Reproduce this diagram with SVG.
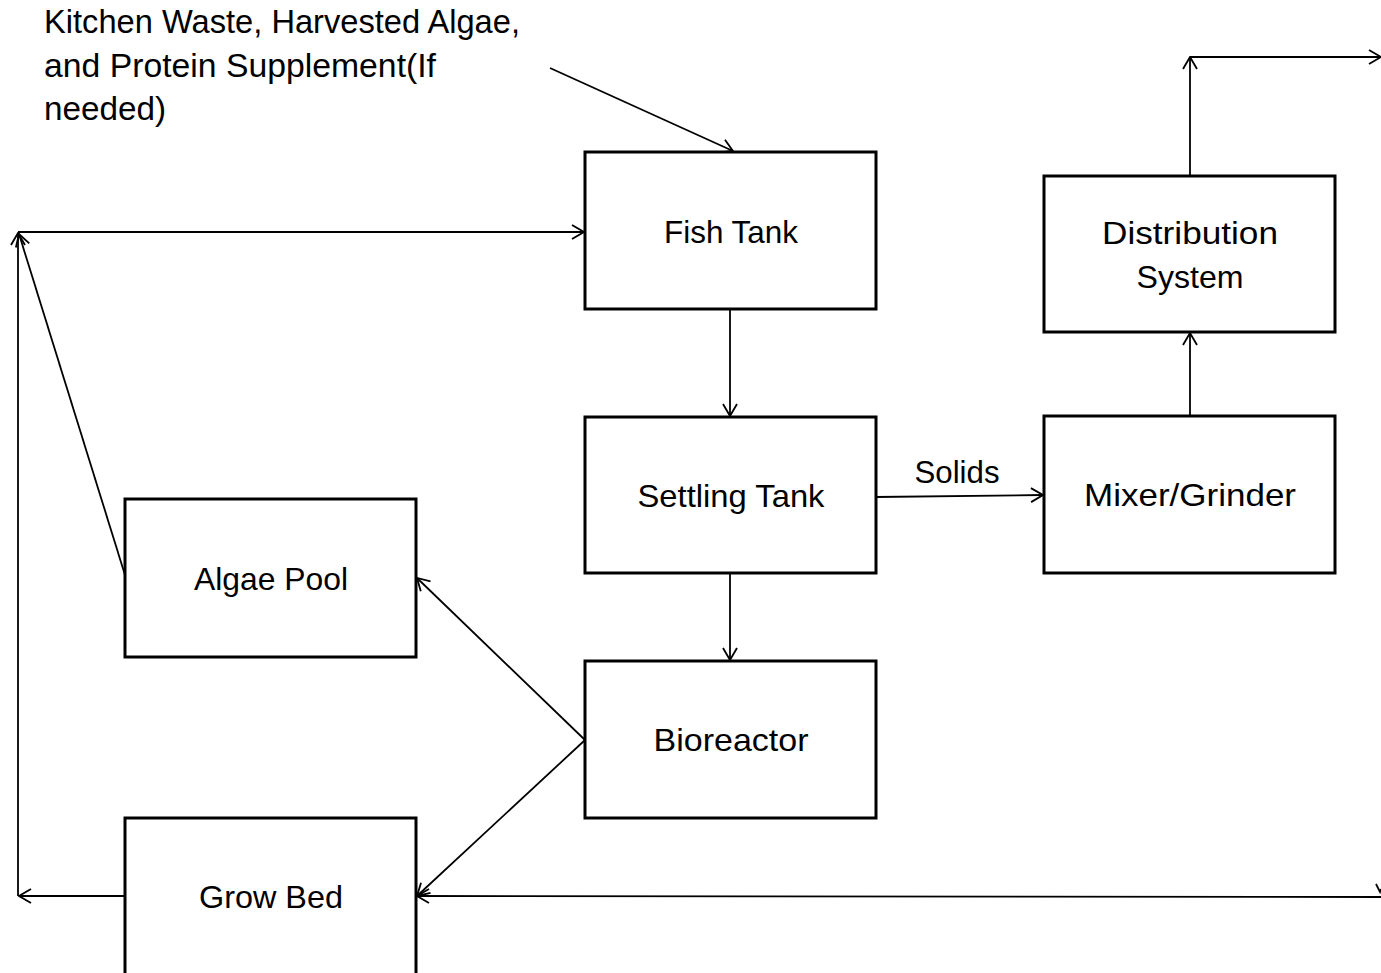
<svg xmlns="http://www.w3.org/2000/svg" width="1381" height="973" viewBox="0 0 1381 973">
<style>
.box{fill:#fff;stroke:#000;stroke-width:3}
.lbl{font-family:"Liberation Sans",Arial,sans-serif;font-size:32px;fill:#000;text-anchor:middle}
.top{font-family:"Liberation Sans",Arial,sans-serif;font-size:33px;fill:#000;text-anchor:start}
.con{fill:none;stroke:#000;stroke-width:1.8}
.head{fill:none;stroke:#000;stroke-width:1.8}
</style>
<defs>
<marker id="arr" viewBox="0 0 14 16" refX="13" refY="8" markerWidth="14" markerHeight="16" markerUnits="userSpaceOnUse" orient="auto">
<path d="M1,1 L13,8 L1,15" class="head"/>
</marker>
</defs>
<rect width="1381" height="973" fill="#fff"/>
<g id="connectors">
<line class="con" x1="550" y1="68" x2="733" y2="151" marker-end="url(#arr)"/>
<line class="con" x1="18" y1="232" x2="584" y2="232" marker-end="url(#arr)"/>
<line class="con" x1="18" y1="896" x2="18" y2="233" marker-end="url(#arr)"/>
<line class="con" x1="125" y1="575" x2="19" y2="234" marker-end="url(#arr)"/>
<line class="con" x1="125" y1="896" x2="19" y2="896" marker-end="url(#arr)"/>
<line class="con" x1="730" y1="309" x2="730" y2="416" marker-end="url(#arr)"/>
<line class="con" x1="730" y1="573" x2="730" y2="660" marker-end="url(#arr)"/>
<line class="con" x1="876" y1="497" x2="1043" y2="495" marker-end="url(#arr)"/>
<line class="con" x1="1190" y1="416" x2="1190" y2="333" marker-end="url(#arr)"/>
<line class="con" x1="1190" y1="176" x2="1190" y2="57" marker-end="url(#arr)"/>
<line class="con" x1="1190" y1="57" x2="1381" y2="57" marker-end="url(#arr)"/>
<line class="con" x1="585" y1="740" x2="417" y2="578" marker-end="url(#arr)"/>
<line class="con" x1="585" y1="740" x2="417" y2="896" marker-end="url(#arr)"/>
<line class="con" x1="1381" y1="897" x2="417" y2="896" marker-end="url(#arr)"/>
<polyline class="con" points="1376,884 1380,892 1381,889"/>
<text class="lbl" x="957" y="483" textLength="85" lengthAdjust="spacingAndGlyphs">Solids</text>
</g>
<g id="input-label">
<text class="top" x="44" y="33" textLength="476" lengthAdjust="spacingAndGlyphs">Kitchen Waste, Harvested Algae,</text>
<text class="top" x="44" y="77" textLength="392" lengthAdjust="spacingAndGlyphs">and Protein Supplement(If</text>
<text class="top" x="44" y="120" textLength="122" lengthAdjust="spacingAndGlyphs">needed)</text>
</g>
<g id="fish-tank">
<rect class="box" x="585" y="152" width="291" height="157"/>
<text class="lbl" x="731" y="243" textLength="134" lengthAdjust="spacingAndGlyphs">Fish Tank</text>
</g>
<g id="settling-tank">
<rect class="box" x="585" y="417" width="291" height="156"/>
<text class="lbl" x="731" y="507" textLength="187" lengthAdjust="spacingAndGlyphs">Settling Tank</text>
</g>
<g id="bioreactor">
<rect class="box" x="585" y="661" width="291" height="157"/>
<text class="lbl" x="731" y="751" textLength="155" lengthAdjust="spacingAndGlyphs">Bioreactor</text>
</g>
<g id="distribution-system">
<rect class="box" x="1044" y="176" width="291" height="156"/>
<text class="lbl" x="1190" y="244" textLength="176" lengthAdjust="spacingAndGlyphs">Distribution</text>
<text class="lbl" x="1190" y="288" textLength="107" lengthAdjust="spacingAndGlyphs">System</text>
</g>
<g id="mixer-grinder">
<rect class="box" x="1044" y="416" width="291" height="157"/>
<text class="lbl" x="1190" y="506" textLength="212" lengthAdjust="spacingAndGlyphs">Mixer/Grinder</text>
</g>
<g id="algae-pool">
<rect class="box" x="125" y="499" width="291" height="158"/>
<text class="lbl" x="271" y="590" textLength="154" lengthAdjust="spacingAndGlyphs">Algae Pool</text>
</g>
<g id="grow-bed">
<rect class="box" x="125" y="818" width="291" height="170"/>
<text class="lbl" x="271" y="908" textLength="144" lengthAdjust="spacingAndGlyphs">Grow Bed</text>
</g>
</svg>
